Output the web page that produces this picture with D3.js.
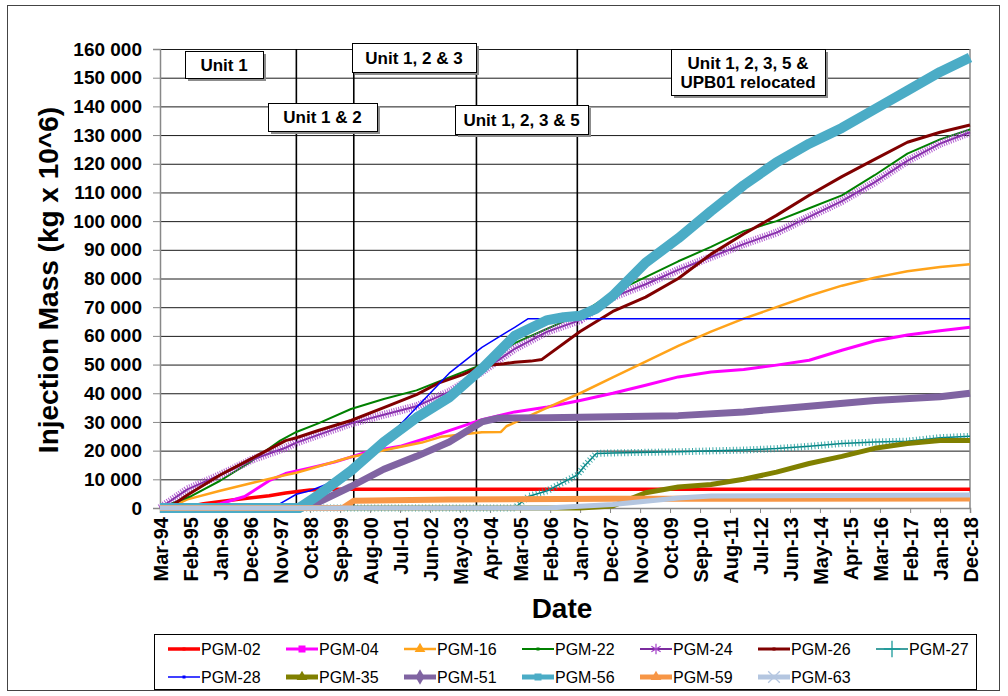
<!DOCTYPE html>
<html>
<head>
<meta charset="utf-8">
<script src="https://cdn.jsdelivr.net/npm/d3@7"></script>
<style>
  body { margin: 0; background: #fff; }
  text { font-family: Arial, "Liberation Sans", sans-serif; }
</style>
</head>
<body>
<svg id="chart" width="1008" height="696"></svg>
<script>
// tick labels (every 11 months) and y ticks
var xTickLabels = ["Mar-94","Feb-95","Jan-96","Dec-96","Nov-97","Oct-98","Sep-99","Aug-00",
  "Jul-01","Jun-02","May-03","Apr-04","Mar-05","Feb-06","Jan-07","Dec-07","Nov-08","Oct-09",
  "Sep-10","Aug-11","Jul-12","Jun-13","May-14","Apr-15","Mar-16","Feb-17","Jan-18","Dec-18"];
var yTicks = d3.range(0, 160001, 10000);

// dates of the unit start-up lines
var eventDates = ["May-98", "Feb-00", "Nov-03", "Dec-06"];

// cumulative injection mass per well
var pgm02 = [["Mar-94",0],["Nov-94",0],["Jul-95",1500],["Jul-96",3000],["Jul-97",4300],["Jan-98",5200],
  ["Oct-98",6300],["Jul-99",6500],["Dec-18",6500]];
var pgm04 = [["Mar-94",0],["May-95",0],["Jan-96",1500],["Oct-96",4000],["Jul-97",9500],["Jan-98",12000],
  ["Oct-98",14000],["Jul-99",16000],["Jul-00",19500],["Jul-01",21500],["Jul-02",25000],["Jan-03",27000],
  ["Jan-04",30800],["Jan-05",33500],["Jan-06",35200],["Jan-07",37500],["Jan-08",40000],["Jan-09",42800],
  ["Jan-10",45700],["Jan-11",47400],["Jan-12",48300],["Jan-13",49800],["Jan-14",51500],["Jan-15",55000],
  ["Jan-16",58200],["Jan-17",60300],["Jan-18",61800],["Dec-18",63000]];
var pgm16 = [["Mar-94",0],["Jun-94",0],["Jan-95",3000],["Jan-96",6000],["Jan-97",8800],["Jan-98",11500],
  ["May-98",12300],["Jan-00",17800],["Mar-02",22800],["Oct-02",24800],["Jan-04",26400],["Aug-04",26500],
  ["Oct-04",28500],["Jan-06",35000],["Jan-07",40000],["Jan-08",45500],["Jan-09",51000],["Jan-10",56500],
  ["Jan-11",61500],["Jan-12",66000],["Jan-13",70000],["Jan-14",74000],["Jan-15",77500],["Jan-16",80300],
  ["Jan-17",82500],["Jan-18",84000],["Dec-18",85000]];
var pgm22 = [["Mar-94",0],["Feb-95",4000],["Jan-96",9500],["Dec-96",16000],["Nov-97",23500],["May-98",26500],
  ["Jan-99",29500],["Jan-00",34500],["Jan-01",38000],["Jan-02",41000],["Jan-03",45500],["Jan-04",50000],
  ["Jan-05",57500],["Jan-06",62500],["Jan-07",67500],["Jan-08",75000],["Jan-09",80500],["Jan-10",86000],
  ["Jan-11",91000],["Jan-12",96500],["Jan-13",100000],["Jan-14",104500],["Jan-15",109000],["Jan-16",116000],
  ["Jan-17",123500],["Jan-18",128500],["Dec-18",132000]];
var pgm24 = [["Mar-94",0],["Jan-95",6500],["Jan-96",11500],["Jan-97",17000],["Jan-98",21000],["May-98",22800],
  ["Jan-99",25500],["Jan-00",29500],["Jan-01",32500],["Jan-02",35500],["Jan-03",40500],["Jan-04",47500],
  ["Jan-05",55500],["Jan-06",61500],["Jan-07",65500],["Jan-08",73500],["Jan-09",78000],["Jan-10",83000],
  ["Jan-11",87500],["Jan-12",92000],["Jan-13",96000],["Jan-14",101500],["Jan-15",107000],["Jan-16",113500],
  ["Jan-17",121000],["Jan-18",127000],["Dec-18",131000]];
var pgm26 = [["Mar-94",0],["Jun-94",0],["Jan-95",4500],["Jan-96",11500],["Jan-97",17500],["Jan-98",23500],
  ["May-98",24500],["Jan-99",27000],["Jan-00",30500],["Jan-01",35000],["Jan-02",39500],["Sep-02",43500],
  ["Jun-03",46500],["Jan-04",49500],["Sep-04",50300],["Jan-05",50800],["Jul-05",51200],["Nov-05",51800],
  ["Jan-07",61500],["Jan-08",68500],["Jan-09",73500],["Jan-10",80000],["Jan-11",88500],["Jan-12",95500],
  ["Jan-13",102000],["Jan-14",109000],["Jan-15",115500],["Jan-16",121500],["Jan-17",127500],["Jan-18",131000],
  ["Dec-18",133500]];
var pgm27 = [["Mar-94",0],["Jan-05",0],["Jun-05",4000],["Jan-06",6000],["Jul-06",9000],["Dec-06",11500],
  ["Mar-07",15000],["Jul-07",19000],["Jan-08",19200],["Jan-10",19600],["Jan-12",20200],["Jan-13",20700],
  ["Jan-14",21500],["Jan-15",22500],["Jan-16",23000],["Jan-17",23300],["Jan-18",24500],["Dec-18",25000]];
var pgm28 = [["Mar-94",0],["Apr-97",0],["Nov-97",1500],["May-98",4800],["Oct-98",6000],["Jun-99",9000],
  ["Jan-00",14000],["Jan-01",23000],["Jan-02",35000],["Jan-03",47000],["Jan-04",56000],["Jan-05",63000],
  ["Jun-05",66000],["Dec-18",66000]];
var pgm35 = [["Mar-94",0],["Jan-07",0],["Jan-08",700],["Jul-08",3000],["Jan-09",5300],["Jan-10",7300],
  ["Jan-11",8200],["Jan-12",10000],["Jan-13",12500],["Jan-14",15500],["Jan-15",18000],["Jan-16",20800],
  ["Jan-17",22500],["Jan-18",23500],["Dec-18",23500]];
var pgm51 = [["Mar-94",0],["Jul-98",0],["Jan-99",2000],["Jan-00",7500],["Jan-01",13500],["Jan-02",18000],
  ["Jan-03",23000],["Jul-03",26500],["Jan-04",30000],["Jul-04",31300],["Jan-06",31500],["Jan-08",31800],
  ["Jan-10",32200],["Jan-12",33500],["Jan-14",35500],["Jan-16",37500],["Jan-18",38800],["Dec-18",40000]];
var pgm56 = [["Mar-94",0],["Jun-98",0],["Jan-99",4500],["Jan-00",13000],["Jan-01",23000],["Jan-02",31500],
  ["Jan-03",38500],["Jan-04",48500],["Jan-05",60000],["Jan-06",65500],["Jul-06",66500],["Jan-07",67000],
  ["Jul-07",69500],["Jan-08",74000],["Jan-09",85500],["Jan-10",94000],["Jan-11",103500],["Jan-12",112500],
  ["Jan-13",120500],["Jan-14",127000],["Jan-15",132500],["Jan-16",139000],["Jan-17",145500],["Jan-18",152000],
  ["Dec-18",157000]];
var pgm59 = [["Mar-94",0],["Oct-99",0],["Feb-00",2500],["Jan-03",3000],["Jan-08",3200],["Dec-18",3300]];
var pgm63 = [["Mar-94",0],["Jan-06",0],["Jan-08",1200],["Jan-10",3500],["Jan-11",4200],["Dec-18",4500]];

var seriesNames = ["PGM-02","PGM-04","PGM-16","PGM-22","PGM-24","PGM-26","PGM-27",
                   "PGM-28","PGM-35","PGM-51","PGM-56","PGM-59","PGM-63"];
var seriesData = [pgm02, pgm04, pgm16, pgm22, pgm24, pgm26, pgm27, pgm28, pgm35, pgm51, pgm56, pgm59, pgm63];

// look of each series (Excel-like line + marker)
var looks = {
  "PGM-02": {color: "#ff0000", width: 3.5, marker: "dot"},
  "PGM-04": {color: "#ff00ff", width: 3,   marker: "square"},
  "PGM-16": {color: "#ffa31a", width: 2.5, marker: "tri"},
  "PGM-22": {color: "#008000", width: 2,   marker: "dot"},
  "PGM-24": {color: "#7b2c9e", width: 2,   marker: "star", fuzz: "#a340c8"},
  "PGM-26": {color: "#800000", width: 3,   marker: "dot"},
  "PGM-27": {color: "#008080", width: 1.5, marker: "plus", fuzz: "#1a9a9a"},
  "PGM-28": {color: "#0000ff", width: 1.5, marker: "dot"},
  "PGM-35": {color: "#808000", width: 5,   marker: "tri"},
  "PGM-51": {color: "#8064a2", width: 7,   marker: "diamond"},
  "PGM-56": {color: "#4bacc6", width: 10,  marker: "square"},
  "PGM-59": {color: "#f79646", width: 6,   marker: "tri"},
  "PGM-63": {color: "#b4c6e0", width: 5,   marker: "cross"}
};

var parseMonth = d3.timeParse("%b-%y");
var svg = d3.select("#chart");
var plot = {left: 160, right: 970, top: 49, bottom: 508};

var x = d3.scaleTime()
  .domain([parseMonth("Mar-94"), parseMonth("Dec-18")])
  .range([plot.left, plot.right]);
var y = d3.scaleLinear().domain([0, 160000]).range([plot.bottom, plot.top]);

// outer frame
svg.append("rect").attr("x", 7.5).attr("y", 5.5).attr("width", 992).attr("height", 685)
  .attr("fill", "#fff").attr("stroke", "#444").attr("stroke-width", 1);

// horizontal grid
svg.append("g").selectAll("line").data(yTicks.slice(1)).enter().append("line")
  .attr("x1", plot.left).attr("x2", plot.right)
  .attr("y1", function(d){ return y(d) + 0.5; }).attr("y2", function(d){ return y(d) + 0.5; })
  .attr("stroke", "#1a1a1a").attr("stroke-width", 1);

// right border of plot
svg.append("line").attr("x1", plot.right).attr("x2", plot.right)
  .attr("y1", plot.top).attr("y2", plot.bottom).attr("stroke", "#888").attr("stroke-width", 1.5);

// unit start-up lines
svg.append("g").selectAll("line").data(eventDates).enter().append("line")
  .attr("x1", function(d){ return x(parseMonth(d)); }).attr("x2", function(d){ return x(parseMonth(d)); })
  .attr("y1", plot.top).attr("y2", plot.bottom)
  .attr("stroke", "#000").attr("stroke-width", 1.6);

// y axis
var fmt = function(d){ return d3.format(",")(d).replace(/,/g, " "); };
var yAxis = svg.append("g").attr("transform", "translate(" + plot.left + ",0)")
  .call(d3.axisLeft(y).tickValues(yTicks).tickSize(7).tickPadding(11).tickFormat(fmt));
yAxis.select(".domain").attr("stroke", "#888").attr("stroke-width", 1.5);
yAxis.selectAll(".tick line").attr("stroke", "#888");
yAxis.selectAll("text").attr("font-size", 19).attr("font-weight", "bold").attr("fill", "#000")
  .style("font-family", "Arial, 'Liberation Sans', sans-serif");

// x axis
var xAxis = svg.append("g").attr("transform", "translate(0," + plot.bottom + ")")
  .call(d3.axisBottom(x).tickValues(xTickLabels.map(parseMonth)).tickSize(5)
    .tickFormat(d3.timeFormat("%b-%y")));
xAxis.select(".domain").attr("stroke", "#888").attr("stroke-width", 1.5);
xAxis.selectAll(".tick line").attr("stroke", "#888");
xAxis.selectAll("text")
  .attr("transform", "rotate(-90)").attr("text-anchor", "end")
  .attr("x", -9).attr("y", 0).attr("dy", "0.36em")
  .attr("font-size", 20).attr("font-weight", "bold").attr("fill", "#000")
  .style("font-family", "Arial, 'Liberation Sans', sans-serif");

// series lines
var line = d3.line()
  .x(function(d){ return x(parseMonth(d[0])); })
  .y(function(d){ return y(d[1]); });

var gLines = svg.append("g");
seriesNames.forEach(function(name, i){
  var lk = looks[name];
  gLines.append("path").datum(seriesData[i])
    .attr("d", line).attr("fill", "none")
    .attr("stroke", lk.color).attr("stroke-width", lk.width)
    .attr("stroke-linejoin", "round");
  if (lk.fuzz) {
    // dense marker texture like the spreadsheet's monthly markers
    gLines.append("path").datum(seriesData[i])
      .attr("d", line).attr("fill", "none")
      .attr("stroke", lk.fuzz).attr("stroke-width", name === "PGM-24" ? 8 : 7)
      .attr("stroke-dasharray", name === "PGM-24" ? "1,1.4" : "1,2.4")
      .attr("opacity", 0.85);
  }
});

// annotation boxes
var notes = [
  {lines: ["Unit 1"], x: 185, y: 51, w: 78, h: 27},
  {lines: ["Unit 1 & 2"], x: 268, y: 103, w: 109, h: 28},
  {lines: ["Unit 1, 2 & 3"], x: 352, y: 43, w: 124, h: 29},
  {lines: ["Unit 1, 2, 3 & 5"], x: 455, y: 105, w: 133, h: 29},
  {lines: ["Unit 1, 2, 3, 5 &", "UPB01 relocated"], x: 671, y: 49, w: 154, h: 46}
];
var gNotes = svg.append("g");
notes.forEach(function(n){
  gNotes.append("rect").attr("x", n.x + 3).attr("y", n.y + 3).attr("width", n.w).attr("height", n.h)
    .attr("fill", "#8c8c8c");
  gNotes.append("rect").attr("x", n.x + 0.5).attr("y", n.y + 0.5).attr("width", n.w).attr("height", n.h)
    .attr("fill", "#fff").attr("stroke", "#000").attr("stroke-width", 1);
  var t = gNotes.append("text").attr("text-anchor", "middle")
    .attr("font-size", 17).attr("font-weight", "bold").attr("fill", "#000");
  var first = n.y + n.h / 2 - (n.lines.length - 1) * 9.5 + 6;
  n.lines.forEach(function(s, k){
    t.append("tspan").attr("x", n.x + n.w / 2).attr("y", first + k * 19).text(s);
  });
});

// axis titles
svg.append("text").attr("transform", "translate(58,280) rotate(-90)")
  .attr("text-anchor", "middle").attr("font-size", 28).attr("font-weight", "bold")
  .text("Injection Mass (kg x 10^6)");
svg.append("text").attr("x", 562).attr("y", 618).attr("text-anchor", "middle")
  .attr("font-size", 28).attr("font-weight", "bold").text("Date");

// legend
var legend = svg.append("g");
legend.append("rect").attr("x", 154.5).attr("y", 634.5).attr("width", 822).attr("height", 55)
  .attr("fill", "#fff").attr("stroke", "#000").attr("stroke-width", 1);

function marker(g, kind, cx, cy, color) {
  if (kind === "dot") {
    g.append("rect").attr("x", cx - 1.5).attr("y", cy - 1.5).attr("width", 3).attr("height", 3).attr("fill", color);
  } else if (kind === "square") {
    g.append("rect").attr("x", cx - 3.5).attr("y", cy - 3.5).attr("width", 7).attr("height", 7).attr("fill", color);
  } else if (kind === "tri") {
    g.append("path").attr("d", d3.symbol(d3.symbolTriangle, 50)()).attr("transform", "translate(" + cx + "," + cy + ")").attr("fill", color);
  } else if (kind === "diamond") {
    g.append("path").attr("d", d3.symbol(d3.symbolDiamond, 70)()).attr("transform", "translate(" + cx + "," + cy + ")").attr("fill", color);
  } else if (kind === "star") {
    g.append("path").attr("d", d3.symbol(d3.symbolAsterisk, 80)()).attr("transform", "translate(" + cx + "," + cy + ")")
      .attr("fill", "none").attr("stroke", color).attr("stroke-width", 1.2);
  } else if (kind === "plus") {
    g.append("path").attr("d", d3.symbol(d3.symbolCross2 || d3.symbolPlus, 90)()).attr("transform", "translate(" + cx + "," + cy + ")")
      .attr("fill", "none").attr("stroke", color).attr("stroke-width", 1.3);
  } else if (kind === "cross") {
    g.append("path").attr("d", d3.symbol(d3.symbolX, 90)()).attr("transform", "translate(" + cx + "," + cy + ")")
      .attr("fill", "none").attr("stroke", color).attr("stroke-width", 1.3);
  }
}

seriesNames.forEach(function(name, i){
  var lk = looks[name];
  var col = i < 7 ? i : i - 7;
  var row = i < 7 ? 0 : 1;
  var lx = 168 + col * 118;
  var ly = 649 + row * 28;
  var g = legend.append("g");
  g.append("line").attr("x1", lx).attr("x2", lx + 32).attr("y1", ly).attr("y2", ly)
    .attr("stroke", lk.color).attr("stroke-width", Math.min(lk.width, 5));
  marker(g, lk.marker, lx + 16, ly, lk.fuzz || lk.color);
  g.append("text").attr("x", lx + 33).attr("y", ly + 6).attr("font-size", 16).attr("fill", "#000").text(name);
});
</script>
</body>
</html>
